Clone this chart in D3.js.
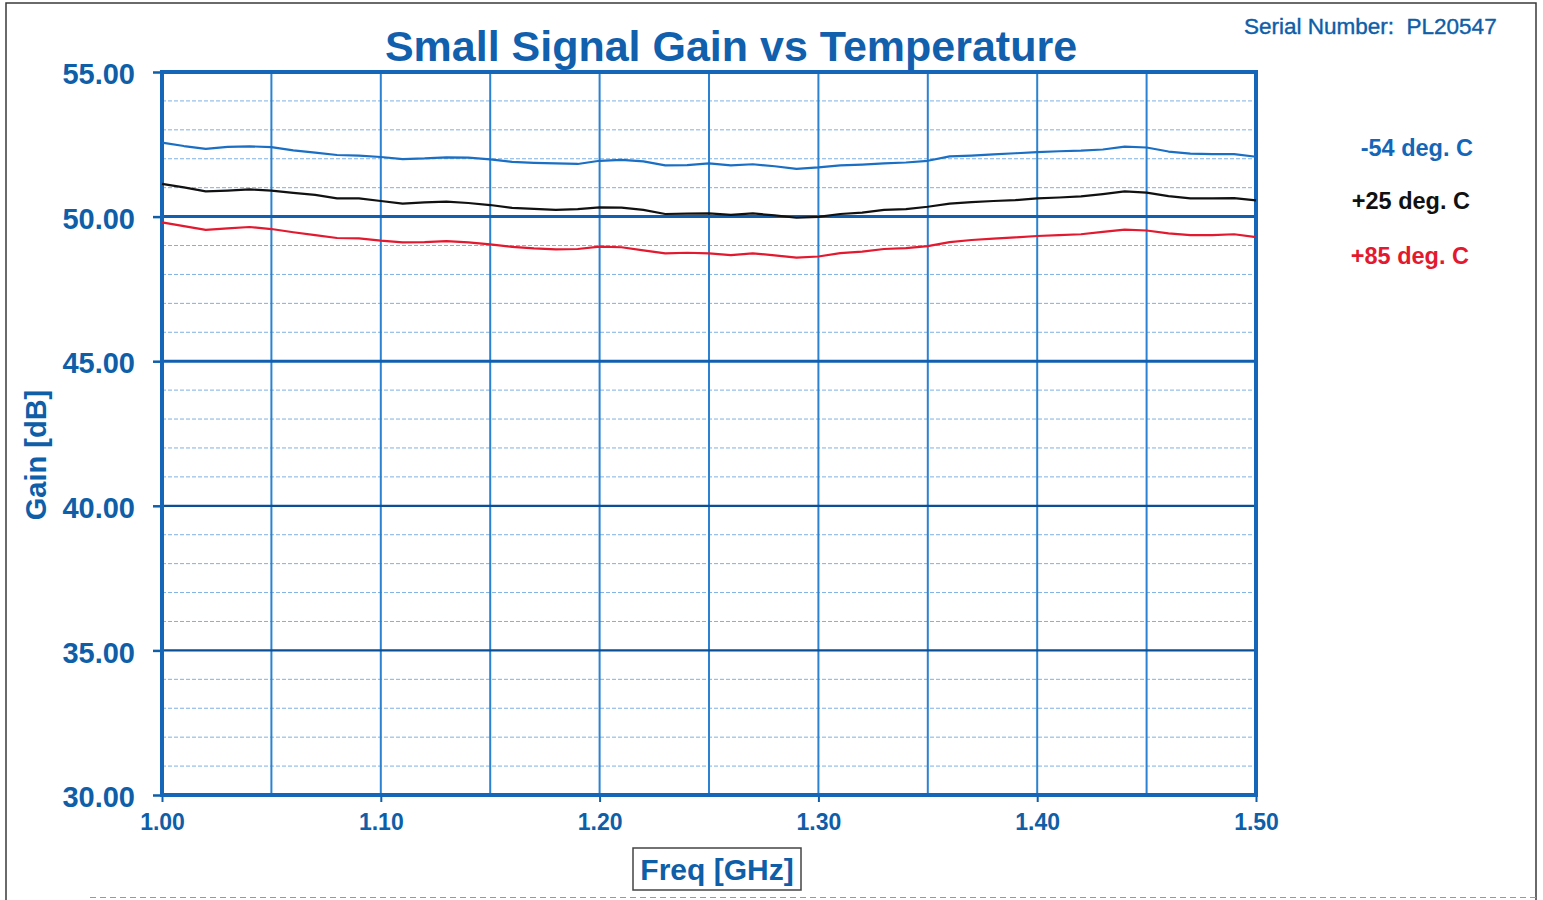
<!DOCTYPE html>
<html>
<head>
<meta charset="utf-8">
<script src="https://cdn.jsdelivr.net/npm/d3@7"></script>
<style>
  html, body { margin: 0; padding: 0; background: #fff; }
  svg { display: block; font-family: "Liberation Sans", Arial, sans-serif; }
</style>
</head>
<body>
<svg id="chart" width="1543" height="900"></svg>
<script>
// ---- data ----
const freqs = d3.range(0, 51).map(i => +(1.00 + i * 0.01).toFixed(2));
const gainM54 = [52.56,52.44,52.34,52.41,52.43,52.40,52.29,52.21,52.13,52.11,
                 52.06,51.99,52.01,52.05,52.04,51.98,51.89,51.86,51.84,51.82,
                 51.93,51.96,51.91,51.77,51.78,51.84,51.77,51.81,51.74,51.65,
                 51.70,51.77,51.80,51.84,51.87,51.93,52.08,52.11,52.15,52.19,
                 52.23,52.26,52.28,52.32,52.42,52.39,52.25,52.18,52.16,52.16,52.07];
const gainP25 = [51.13,51.01,50.87,50.90,50.94,50.90,50.82,50.75,50.63,50.63,
                 50.54,50.45,50.49,50.52,50.47,50.40,50.30,50.27,50.23,50.26,
                 50.32,50.31,50.23,50.09,50.10,50.11,50.06,50.11,50.04,49.96,
                 49.99,50.09,50.14,50.23,50.26,50.34,50.45,50.50,50.54,50.57,
                 50.63,50.66,50.70,50.78,50.87,50.83,50.71,50.63,50.63,50.64,50.56];
const gainP85 = [49.80,49.67,49.54,49.59,49.64,49.57,49.46,49.36,49.26,49.25,
                 49.17,49.11,49.12,49.15,49.11,49.04,48.95,48.90,48.87,48.88,
                 48.96,48.94,48.83,48.73,48.75,48.73,48.67,48.73,48.66,48.58,
                 48.62,48.74,48.79,48.88,48.91,48.98,49.12,49.19,49.24,49.28,
                 49.33,49.36,49.39,49.47,49.55,49.52,49.42,49.36,49.36,49.39,49.29];
const seriesNames = ["-54 deg. C", "+25 deg. C", "+85 deg. C"];
const seriesColors = ["#1a6fc4", "#111111", "#e3192f"];
const xTicks = [1.00, 1.10, 1.20, 1.30, 1.40, 1.50];
const xGrid = [1.05, 1.10, 1.15, 1.20, 1.25, 1.30, 1.35, 1.40, 1.45];
const yTicks = [30, 35, 40, 45, 50, 55];
const yMinor = d3.range(31, 55).filter(v => v % 5 !== 0);
const title = "Small Signal Gain vs Temperature";
const serial = "Serial Number:\u00a0\u00a0PL20547";
const xTitle = "Freq [GHz]";
const yTitle = "Gain [dB]";

// ---- layout ----
const svg = d3.select("#chart");
const L = 162, R = 1256, T = 72, B = 795;
const x = d3.scaleLinear().domain([1.0, 1.5]).range([L, R]);
const y = d3.scaleLinear().domain([30, 55]).range([B, T]);
const txtBlue = "#0e5ea8";

// outer border (left, top, right solid; bottom faint)
svg.append("path").attr("d", "M6,900 L6,3 L1536,3 L1536,900")
  .attr("fill", "none").attr("stroke", "#3a3a3a").attr("stroke-width", 1.5);
svg.append("line").attr("x1", 90).attr("x2", 1536).attr("y1", 897.5).attr("y2", 897.5)
  .attr("stroke", "#999").attr("stroke-width", 1).attr("stroke-dasharray", "6,4");

// minor horizontal grid
svg.append("g").selectAll("line").data(yMinor).join("line")
  .attr("x1", L).attr("x2", R).attr("y1", d => y(d)).attr("y2", d => y(d))
  .attr("stroke", "#7fb0e2").attr("stroke-width", 1).attr("stroke-dasharray", "4,2");

// vertical grid
svg.append("g").selectAll("line").data(xGrid).join("line")
  .attr("y1", T).attr("y2", B).attr("x1", d => x(d)).attr("x2", d => x(d))
  .attr("stroke", "#2a82d0").attr("stroke-width", 2);

// major horizontal grid
svg.append("g").selectAll("line").data(yTicks.filter(v => v > 30 && v < 55)).join("line")
  .attr("x1", L).attr("x2", R).attr("y1", d => y(d)).attr("y2", d => y(d))
  .attr("stroke", d => d >= 45 ? "#125fb0" : "#0b4f96").attr("stroke-width", d => d >= 45 ? 3 : 2.2);

// axes (ticks + labels)
const yAxis = d3.axisLeft(y).tickValues(yTicks).tickFormat(d3.format(".2f")).tickSize(9).tickPadding(18);
const gy = svg.append("g").attr("transform", `translate(${L},0)`).call(yAxis);
gy.select(".domain").remove();
gy.selectAll(".tick line").attr("stroke", "#0e5ea8").attr("stroke-width", 2.5);
gy.selectAll(".tick text").attr("fill", txtBlue).attr("font-size", 29).attr("font-weight", "bold")
  .attr("dy", "0.4em");

const xAxis = d3.axisBottom(x).tickValues(xTicks).tickFormat(d3.format(".2f")).tickSize(7).tickPadding(12);
const gx = svg.append("g").attr("transform", `translate(0,${B})`).call(xAxis);
gx.select(".domain").remove();
gx.selectAll(".tick line").attr("stroke", "#0e5ea8").attr("stroke-width", 2);
gx.selectAll(".tick text").attr("fill", txtBlue).attr("font-size", 23).attr("font-weight", "bold");

// frame
svg.append("rect").attr("x", L).attr("y", T).attr("width", R - L).attr("height", B - T)
  .attr("fill", "none").attr("stroke", "#1565b8").attr("stroke-width", 4);

// curves
const allSeries = [gainM54, gainP25, gainP85];
const line = d3.line().x((d, i) => x(freqs[i])).y(d => y(d));
svg.append("g").selectAll("path").data(allSeries).join("path")
  .attr("d", d => line(d)).attr("fill", "none")
  .attr("stroke", (d, i) => seriesColors[i]).attr("stroke-width", 2.2)
  .attr("stroke-linejoin", "round");

// title
svg.append("text").attr("x", 731).attr("y", 61).attr("text-anchor", "middle")
  .attr("fill", "#1060ad").attr("font-size", 43).attr("font-weight", "bold").text(title);

// serial number
svg.append("text").attr("x", 1244).attr("y", 34).attr("fill", txtBlue)
  .attr("font-size", 22.5).attr("stroke", txtBlue).attr("stroke-width", 0.4).text(serial);

// legend
const legY = [156, 209, 264];
const legX = [1473, 1470, 1469];
svg.append("g").selectAll("text").data(seriesNames).join("text")
  .attr("x", (d, i) => legX[i]).attr("y", (d, i) => legY[i]).attr("text-anchor", "end")
  .attr("fill", (d, i) => i === 0 ? "#1366b8" : seriesColors[i])
  .attr("font-size", 23.5).attr("font-weight", "bold").text(d => d);

// y title
svg.append("text").attr("transform", "translate(46,455) rotate(-90)").attr("text-anchor", "middle")
  .attr("fill", txtBlue).attr("font-size", 29).attr("font-weight", "bold").text(yTitle);

// x title box
svg.append("rect").attr("x", 633).attr("y", 848).attr("width", 168).attr("height", 42)
  .attr("fill", "#fff").attr("stroke", "#444").attr("stroke-width", 1.5);
svg.append("text").attr("x", 717).attr("y", 880).attr("text-anchor", "middle")
  .attr("fill", txtBlue).attr("font-size", 30).attr("font-weight", "bold").text(xTitle);
</script>
</body>
</html>
